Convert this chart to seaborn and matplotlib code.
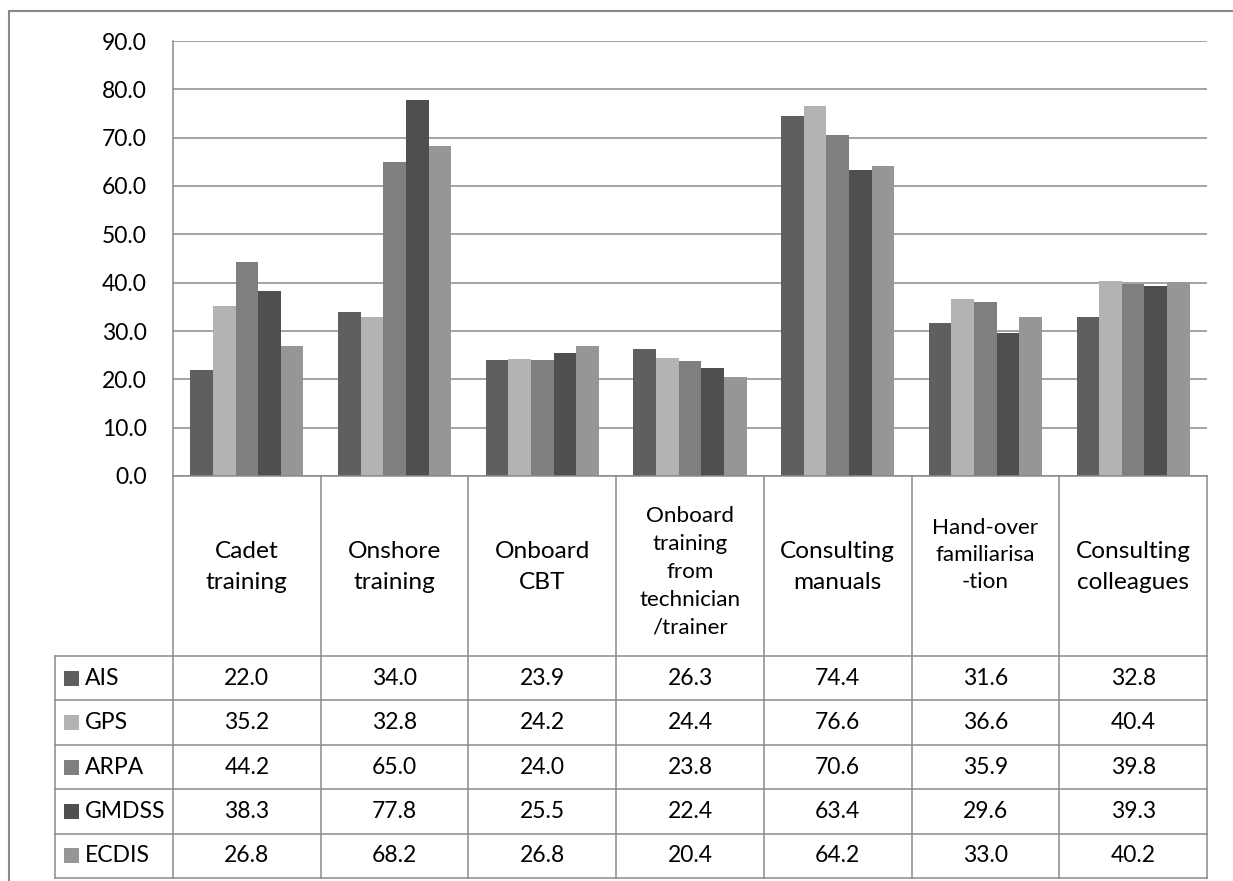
import numpy as np
import pandas as pd
import seaborn as sns
import matplotlib.pyplot as plt
from matplotlib.lines import Line2D
from matplotlib.patches import Rectangle

# ---- data -------------------------------------------------------------
categories = [
    "Cadet\ntraining",
    "Onshore\ntraining",
    "Onboard\nCBT",
    "Onboard\ntraining\nfrom\ntechnician\n/trainer",
    "Consulting\nmanuals",
    "Hand-over\nfamiliarisa\n-tion",
    "Consulting\ncolleagues",
]
systems = ["AIS", "GPS", "ARPA", "GMDSS", "ECDIS"]
ais = [22.0, 34.0, 23.9, 26.3, 74.4, 31.6, 32.8]
gps = [35.2, 32.8, 24.2, 24.4, 76.6, 36.6, 40.4]
arpa = [44.2, 65.0, 24.0, 23.8, 70.6, 35.9, 39.8]
gmdss = [38.3, 77.8, 25.5, 22.4, 63.4, 29.6, 39.3]
ecdis = [26.8, 68.2, 26.8, 20.4, 64.2, 33.0, 40.2]
y_ticks = [0, 10, 20, 30, 40, 50, 60, 70, 80, 90]

series = [ais, gps, arpa, gmdss, ecdis]
colors = ["#5f5f5f", "#b3b3b3", "#7f7f7f", "#4f4f4f", "#969696"]

df = pd.DataFrame(
    [(c, s, v) for s, vals in zip(systems, series) for c, v in zip(categories, vals)],
    columns=["category", "system", "value"],
)

# ---- style ------------------------------------------------------------
sns.set_style("white")
plt.rcParams["font.family"] = ["Lato", "DejaVu Sans"]
FS = 16.5
LINE = "#8a8a8a"

W, H = 1233, 881
fig = plt.figure(figsize=(W / 100, H / 100), dpi=100)

def fx(px):
    return px / W

def fy(py):
    return 1 - py / H

# ---- bar chart --------------------------------------------------------
ax = fig.add_axes([fx(173), fy(476), fx(1207 - 173), (476 - 41) / H])
sns.barplot(
    data=df, x="category", y="value", hue="system", hue_order=systems,
    palette=colors, width=0.766, saturation=1, linewidth=0,
    legend=False, ax=ax, zorder=3,
)
ax.set_xlim(-0.5, len(categories) - 0.5)
ax.set_ylim(0, 90)
ax.set_yticks(y_ticks)
ax.set_yticklabels([f"{t:.1f}" for t in y_ticks], fontsize=FS, color="black")
ax.tick_params(axis="y", length=0, pad=19)
ax.set_xticks([])
ax.set_xlabel("")
ax.set_ylabel("")
ax.yaxis.grid(True, color=LINE, linewidth=1.1, zorder=0)
ax.set_axisbelow(True)
for side in ["top", "right", "bottom"]:
    ax.spines[side].set_visible(False)
ax.spines["left"].set_color(LINE)
ax.spines["left"].set_linewidth(1.1)

# ---- data table -------------------------------------------------------
unit = 147.71                    # pixels per category column
left_col = (173 - 55) / unit     # width of the legend column, in category units
x0 = -0.5 - left_col
x1 = len(categories) - 0.5
header_h = 180
row_h = 44.4
table_h = header_h + row_h * len(systems)

tax = fig.add_axes([fx(55), fy(476 + table_h), fx(1207 - 55), table_h / H])
tax.set_xlim(x0, x1)
tax.set_ylim(table_h, 0)
tax.axis("off")

lkw = dict(color=LINE, linewidth=1.1, solid_capstyle="projecting", clip_on=False)
# top border (axis line) and row separators
tax.plot([-0.5, x1], [0, 0], **lkw)
for k in range(len(systems) + 1):
    y = header_h + row_h * k
    tax.plot([x0, x1], [y, y], **lkw)
# column separators
tax.plot([x0, x0], [header_h, table_h], **lkw)
for i in range(len(categories) + 1):
    tax.plot([i - 0.5, i - 0.5], [0, table_h], **lkw)

# header labels: long ones are set a little smaller
header_style = {
    0: (17.6, 1.6, 91),
    1: (17.6, 1.6, 91),
    2: (17.6, 1.6, 91),
    3: (16.1, 1.5, 96),
    4: (17.6, 1.6, 91),
    5: (16.1, 1.45, 79),
    6: (17.6, 1.6, 91),
}
for i, cat in enumerate(categories):
    size, spacing, yc = header_style[i]
    tax.text(i, yc, cat, ha="center", va="center", multialignment="center",
             fontsize=size, linespacing=spacing, color="black")

# legend keys, names and values
for k, (name, vals, col) in enumerate(zip(systems, series, colors)):
    yc = header_h + row_h * (k + 0.5)
    tax.add_patch(Rectangle((x0 + 9 / unit, yc - 7.5), 15 / unit, 15,
                            facecolor=col, edgecolor="none", clip_on=False))
    tax.text(x0 + 30 / unit, yc, name, ha="left", va="center",
             fontsize=FS, color="black")
    for i, v in enumerate(vals):
        tax.text(i, yc, f"{v:.1f}", ha="center", va="center",
                 fontsize=FS, color="black")

# outer frame
fig.add_artist(Line2D([fx(9), 1], [fy(11), fy(11)], transform=fig.transFigure,
                      color=LINE, linewidth=1.5))
fig.add_artist(Line2D([fx(9), fx(9)], [0, fy(11)], transform=fig.transFigure,
                      color=LINE, linewidth=1.5))

fig.savefig("out.png", dpi=100, facecolor="white")
